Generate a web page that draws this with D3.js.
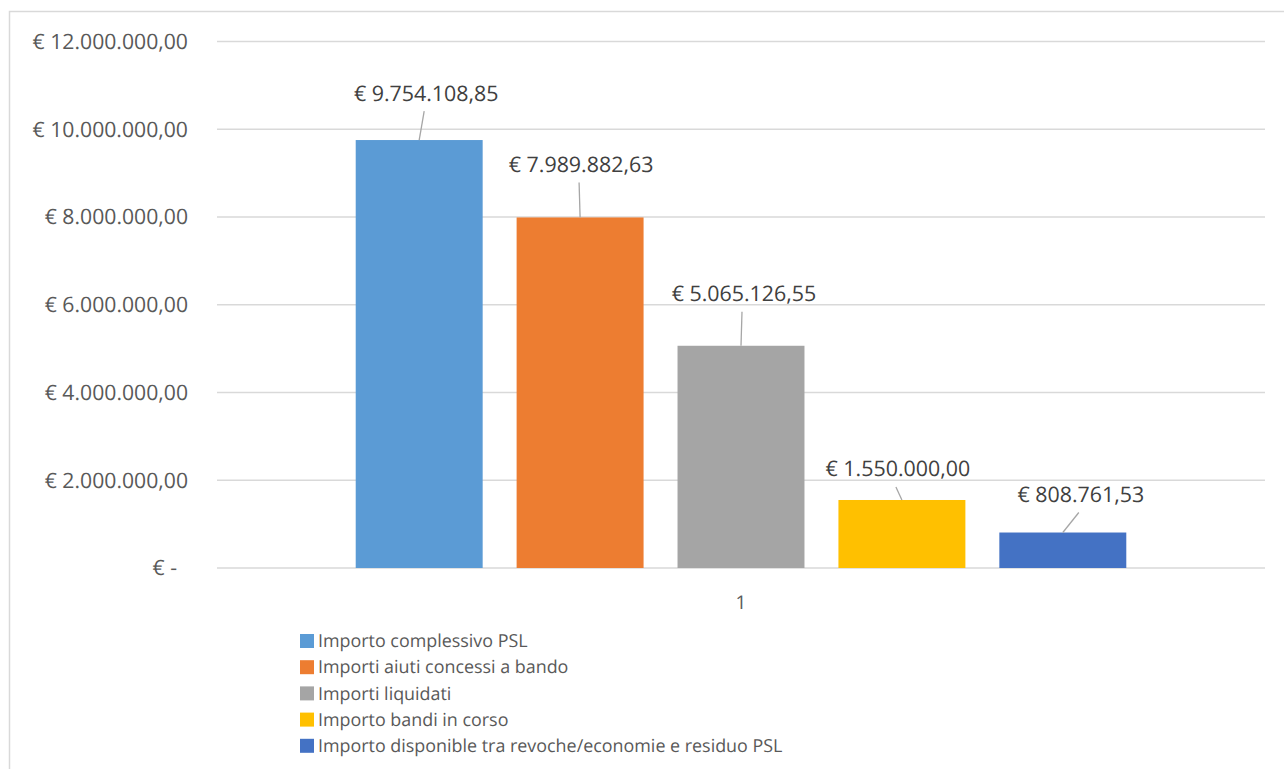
<!DOCTYPE html>
<html>
<head>
<meta charset="utf-8">
<script src="https://cdn.jsdelivr.net/npm/d3@7"></script>
<style>
  body { margin: 0; background: #fff; }
  svg text { font-family: "Open Sans", "Noto Sans", sans-serif; text-rendering: geometricPrecision; }
</style>
</head>
<body>
<svg id="chart" width="1284" height="769"></svg>
<script>
// categories and series
const categories = ["1"];
const seriesNames = [
  "Importo complessivo PSL",
  "Importi aiuti concessi a bando",
  "Importi liquidati",
  "Importo bandi in corso",
  "Importo disponible tra revoche/economie e residuo PSL"
];
const seriesValues = [9754108.85, 7989882.63, 5065126.55, 1550000.00, 808761.53];
const seriesColors = ["#5b9bd5", "#ed7d31", "#a5a5a5", "#ffc000", "#4472c4"];
const yTicks = [0, 2000000, 4000000, 6000000, 8000000, 10000000, 12000000];

// data labels were dragged by hand in the original: offset from the bar top (px)
const labelOffsets = [[7, -47], [1, -53], [3, -52], [-4, -31], [18, -38]];

const svg = d3.select("#chart");
const W = 1284, H = 769;

const itLocale = d3.formatLocale({ decimal: ",", thousands: ".", grouping: [3], currency: ["€ ", ""] });
const money = itLocale.format("$,.2f");
const fmtTick = d => d === 0 ? "€ -\u00a0\u00a0" : money(d);

// chart frame
svg.append("rect")
  .attr("x", 9.5).attr("y", 11.5)
  .attr("width", W + 20).attr("height", H + 20)
  .attr("fill", "#fff")
  .attr("stroke", "#d9d9d9")
  .attr("stroke-width", 1.5);

const plotLeft = 217, plotRight = 1265;
const y = d3.scaleLinear().domain([0, 12000000]).range([568, 41.5]);

const x0 = d3.scaleBand().domain(categories).range([plotLeft, plotRight]).paddingInner(0).paddingOuter(0.18);
const x1 = d3.scaleBand().domain(seriesNames).range([0, x0.bandwidth()]).paddingInner(0.211).paddingOuter(0);

// gridlines
svg.append("g")
  .selectAll("line")
  .data(yTicks)
  .join("line")
  .attr("x1", plotLeft).attr("x2", plotRight)
  .attr("y1", d => y(d)).attr("y2", d => y(d))
  .attr("stroke", "#d9d9d9")
  .attr("stroke-width", 1.5);

// y axis labels
const yAxis = d3.axisLeft(y).tickValues(yTicks).tickFormat(fmtTick).tickSize(0).tickPadding(0);
svg.append("g")
  .attr("transform", "translate(188,0)")
  .call(yAxis)
  .call(g => g.select(".domain").remove())
  .call(g => g.selectAll("text")
    .attr("fill", "#595959")
    .style("font-size", "21.2px")
    .style("font-family", "'Open Sans', sans-serif"));

// bars
const rows = seriesNames.map((s, i) => ({ cat: categories[0], name: s, value: seriesValues[i], color: seriesColors[i], off: labelOffsets[i] }));

const grp = svg.append("g").attr("transform", `translate(${x0(categories[0])},0)`);

grp.selectAll("rect")
  .data(rows)
  .join("rect")
  .attr("x", d => x1(d.name))
  .attr("y", d => y(d.value))
  .attr("width", x1.bandwidth())
  .attr("height", d => y(0) - y(d.value))
  .attr("fill", d => d.color);

// leader lines
grp.selectAll("line.leader")
  .data(rows)
  .join("line")
  .attr("class", "leader")
  .attr("x1", d => x1(d.name) + x1.bandwidth() / 2 + d.off[0] - 2)
  .attr("y1", d => y(d.value) + d.off[1] + 18)
  .attr("x2", d => x1(d.name) + x1.bandwidth() / 2)
  .attr("y2", d => y(d.value))
  .attr("stroke", "#a6a6a6")
  .attr("stroke-width", 1.3);

// data labels
grp.selectAll("text.lbl")
  .data(rows)
  .join("text")
  .attr("class", "lbl")
  .attr("x", d => x1(d.name) + x1.bandwidth() / 2 + d.off[0])
  .attr("y", d => y(d.value) + d.off[1])
  .attr("dy", "0.35em")
  .attr("text-anchor", "middle")
  .attr("fill", "#404040")
  .style("font-size", "21.4px")
  .text(d => money(d.value));

// category axis label
svg.append("g")
  .attr("transform", "translate(0,568)")
  .call(d3.axisBottom(x0).tickSize(0).tickPadding(28))
  .call(g => g.select(".domain").remove())
  .call(g => g.selectAll("text")
    .attr("fill", "#595959")
    .style("font-size", "19px")
    .style("font-family", "'Open Sans', sans-serif"));

// legend
const legend = svg.append("g").attr("transform", "translate(300,641)");
const item = legend.selectAll("g")
  .data(rows)
  .join("g")
  .attr("transform", (d, i) => `translate(0,${i * 26.2})`);
item.append("rect")
  .attr("x", 0).attr("y", -7)
  .attr("width", 14).attr("height", 14)
  .attr("fill", d => d.color);
item.append("text")
  .attr("x", 18).attr("y", 0)
  .attr("dy", "0.35em")
  .attr("fill", "#595959")
  .style("font-size", "17.9px")
  .text(d => d.name);
</script>
</body>
</html>
